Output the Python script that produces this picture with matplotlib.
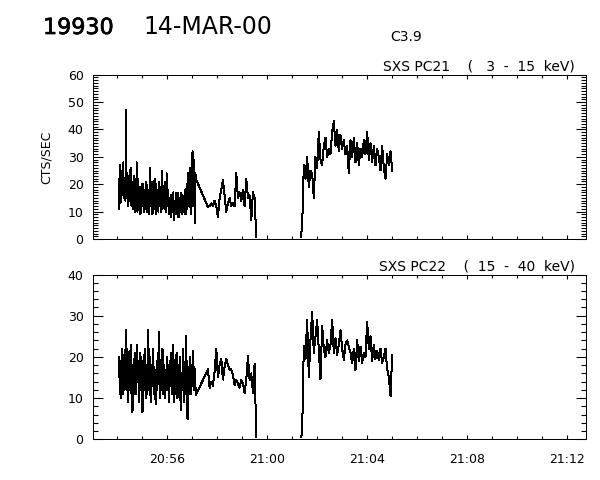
import numpy as np
import matplotlib.pyplot as plt
import matplotlib.dates as mdates
import matplotlib.patheffects as pe
from matplotlib.patches import Rectangle

DAY = '2000-03-14T'

# three stretches of data: start time (UT) and cadence in seconds
seg_starts = ['20:54:06', '20:57:39', '21:01:21']
seg_steps = [1, 4, 4]

# SXS PC21 (3 - 15 keV), counts/s
pc21_a = [11, 24, 27, 13, 14, 22, 25, 16, 18, 26, 28, 15, 16, 21, 22, 14, 47, 18, 15, 23,
          24, 12, 13, 19, 20, 14, 16, 25, 26, 13, 12, 21, 19, 11, 14, 23, 22, 13, 10, 18,
          17, 12, 28, 16, 10, 22, 21, 11, 14, 19, 18, 9, 10, 17, 16, 20, 12, 15, 20, 11,
          10, 18, 15, 12, 11, 21, 19, 10, 13, 16, 17, 11, 9, 20, 26, 14, 12, 18, 21, 10,
          9, 17, 16, 12, 18, 22, 11, 15, 20, 9, 13, 18, 15, 11, 10, 21, 19, 13, 12, 16,
          17, 10, 25, 15, 11, 19, 18, 12, 14, 21, 20, 11, 10, 16, 24, 12, 13, 18, 17, 9,
          11, 14, 15, 10, 8, 16, 14, 11, 10, 17, 16, 9, 7, 14, 13, 10, 9, 17, 15, 12,
          11, 8, 17, 13, 8, 15, 12, 10, 14, 17, 9, 13, 16, 11, 10, 15, 13, 9, 18, 12,
          9, 16, 20, 11, 12, 19, 24, 13, 14, 21, 26, 12, 9, 20, 18, 14, 32, 16, 12, 27,
          29, 10, 6, 24, 22]
pc21_b = [11.7, 12, 13, 12, 14, 12, 8, 15, 18, 21.5, 16, 10, 13, 15, 12, 13, 12, 24, 15, 17,
          14, 18, 12, 22, 15, 16, 7, 17, 15, 0]
pc21_c = [0, 4.5, 27, 22, 30, 19, 25, 24, 15, 30, 26, 39, 29, 27, 34, 37, 30, 33, 31, 39,
          43, 34, 40, 32, 38, 33, 36, 31, 34, 24, 36, 30, 37, 28, 35, 27, 33, 30, 36, 31,
          39, 29, 35, 28, 34, 27, 33, 30, 25, 34, 26, 22, 31, 27, 32, 25]

# SXS PC22 (15 - 40 keV), counts/s
pc22_a = [20, 14, 11, 19, 18, 10, 13, 22, 21, 15, 11, 18, 17, 12, 14, 20, 26.5, 13, 12, 17,
          22, 10, 9, 16, 19, 12, 15, 21, 23, 13, 10, 17, 6.5, 15, 18, 11, 13, 21, 20, 12,
          11, 17, 23, 14, 14, 19, 17, 10, 9, 18, 21, 13, 12, 20, 16, 9, 6.5, 14, 19, 12,
          13, 22, 22, 15, 10, 18, 17, 11, 14, 20, 26.5, 16, 12, 19, 20, 11, 9, 15, 18, 13,
          14, 21, 22, 12, 11, 17, 16, 10, 8.5, 14, 19, 12, 13, 20, 21, 14, 26, 17, 10, 15,
          17, 12, 14, 20, 22, 13, 11, 18, 18, 10, 10, 16, 16, 12, 20, 14, 12, 18, 15, 9,
          9, 17, 19, 13, 13, 21, 17, 11, 11, 16, 23, 14, 9, 18, 16, 11, 14, 20, 21, 13,
          10, 17, 18, 12, 13, 19, 20, 10, 7, 15, 16, 12, 12, 20, 22, 14, 9, 16, 17, 11,
          25, 14, 12, 19, 4.8, 15, 16, 11, 13, 19, 20, 12, 11, 17, 18, 13, 14, 20, 21.5, 12,
          12, 16, 17, 13, 10.7]
pc22_b = [17, 12.5, 14, 13, 16.5, 22, 15, 18, 19.5, 14.5, 17.5, 19.5, 18, 16.8, 17, 15.5, 13.2,
          14.5, 13.5, 12.5, 14.5, 13.5, 11.2, 14.5, 20.2, 14.4, 16, 11.2, 18.3, 0]
pc22_c = [0, 1.5, 22.7, 19.5, 29, 15, 24, 31, 21, 25, 29, 21.7, 14.5, 27.5, 22, 20, 24, 21,
          23, 29, 21, 24.5, 20.5, 23, 26.5, 22, 19.3, 23, 24, 22.5, 21, 18.5, 22, 16.8,
          24, 19, 22.5, 18.5, 21, 20, 28.5, 22, 25, 19, 23, 19.5, 21.5, 19.3, 22, 18.5,
          20, 22, 17, 15, 10.5, 20.5]

x_range = ['20:53:04', '21:12:46']


def seg_times(start, step, n):
    t0 = np.datetime64(DAY + start)
    return t0 + np.arange(n) * np.timedelta64(step, 's')


def series(parts):
    t = np.concatenate([seg_times(s, d, len(p))
                        for s, d, p in zip(seg_starts, seg_steps, parts)])
    return t, np.concatenate([np.asarray(p, float) for p in parts])


def style_axis(ax, ymax, ymajor, yminor, labels):
    ax.set_xlim(np.datetime64(DAY + x_range[0]), np.datetime64(DAY + x_range[1]))
    ax.set_ylim(0, ymax)
    ax.xaxis.set_major_locator(mdates.MinuteLocator(byminute=range(0, 60, 4)))
    ax.xaxis.set_minor_locator(mdates.MinuteLocator())
    ax.xaxis.set_major_formatter(mdates.DateFormatter('%H:%M'))
    ax.yaxis.set_major_locator(plt.MultipleLocator(ymajor))
    ax.yaxis.set_minor_locator(plt.MultipleLocator(yminor))
    ax.tick_params(which='both', direction='in', top=True, right=True,
                   width=0.8, labelsize=9, colors='black')
    ax.tick_params(axis='x', which='major', length=3, pad=10)
    ax.tick_params(axis='x', which='minor', length=2.5)
    ax.tick_params(axis='y', which='major', length=7, pad=7)
    ax.tick_params(axis='y', which='minor', length=3.5)
    if not labels:
        ax.tick_params(axis='x', labelbottom=False)
    for sp in ax.spines.values():
        sp.set_linewidth(0.72)
        sp.set_antialiased(False)


fig = plt.figure(figsize=(6, 4.8), dpi=100)
W, H = 600.0, 480.0
left, right = 93.3, 586.0
ax1 = fig.add_axes([left / W, 1 - 239 / H, (right - left) / W, (239 - 74.7) / H])
ax2 = fig.add_axes([left / W, 1 - 439.3 / H, (right - left) / W, (439.3 - 274.5) / H])

t1, y1 = series([pc21_a, pc21_b, pc21_c])
t2, y2 = series([pc22_a, pc22_b, pc22_c])
for ax, t, y in [(ax1, t1, y1), (ax2, t2, y2)]:
    line, = ax.plot(t, y, color='black', lw=0.72, antialiased=False)
    # keep the zero-count stretch hidden under the bottom axis line
    e = 1.0 / 164.5
    line.set_clip_path(Rectangle((0, e), 1, 1 - e, transform=ax.transAxes))

style_axis(ax1, 60, 10, 1, False)
style_axis(ax2, 40, 10, 2, True)

fig.text(43 / W, 1 - 34 / H, '19930', fontsize=16, ha='left', va='baseline',
         path_effects=[pe.withStroke(linewidth=0.5, foreground='black')])
fig.text(143 / W, 1 - 34 / H, '14-MAR-00', fontsize=17, ha='left', va='baseline')
fig.text(390 / W, 1 - 41 / H, 'C3.9', fontsize=10, ha='left', va='baseline')
fig.text(575 / W, 1 - 70 / H, 'SXS PC21    (   3  -  15  keV)', fontsize=10,
         ha='right', va='baseline')
fig.text(575 / W, 1 - 270 / H, 'SXS PC22    (  15  -  40  keV)', fontsize=10,
         ha='right', va='baseline')
fig.text(46 / W, 1 - 157 / H, 'CTS/SEC', fontsize=9, rotation=90, ha='center', va='center')

fig.savefig('out.png', dpi=100)
